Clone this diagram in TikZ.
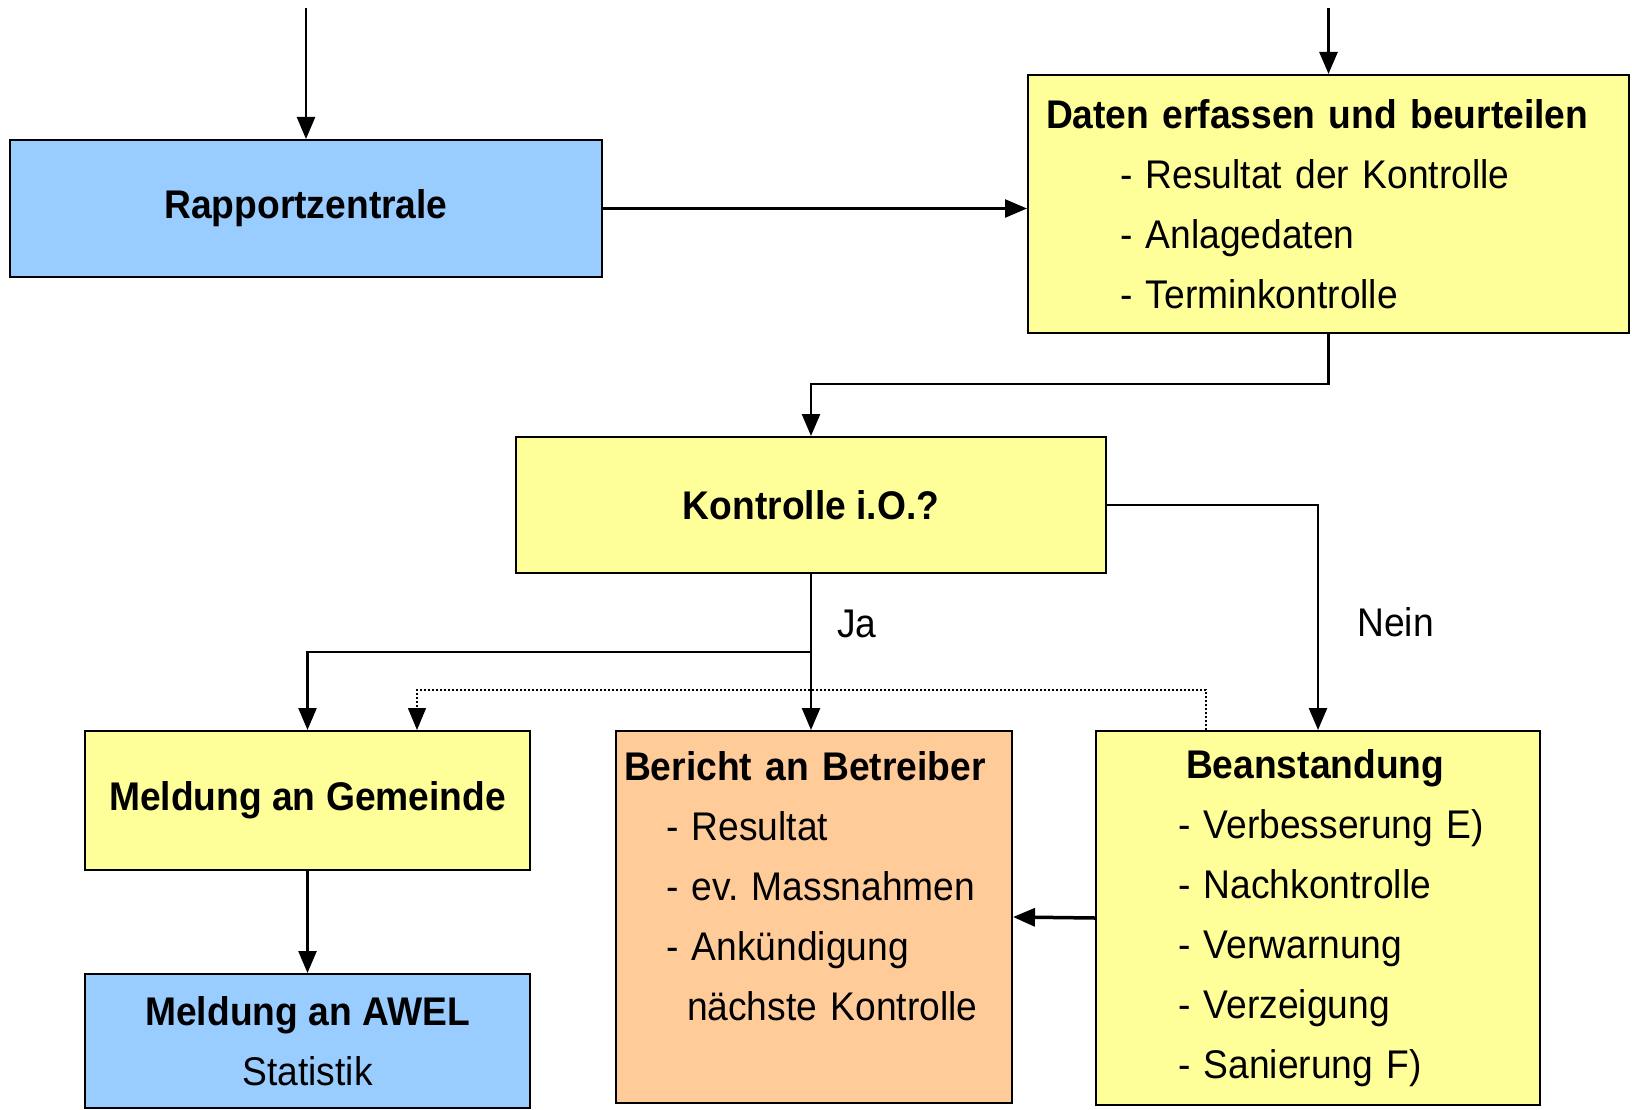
\documentclass[tikz,border=0pt]{standalone}
\usepackage{fontspec}
\setmainfont{Liberation Sans}[FakeStretch=0.93]
\usetikzlibrary{arrows.meta}
\frenchspacing

\definecolor{boxblue}{HTML}{99CCFF}
\definecolor{boxyellow}{HTML}{FFFF99}
\definecolor{boxpeach}{HTML}{FFCC99}

\begin{document}
\begin{tikzpicture}[
    x=1pt, y=-1pt,
    % Box styles
    box/.style={
        rectangle,
        draw=black,
        line width=2pt,
        font=\fontsize{40}{60}\selectfont,
        inner sep=0pt
    },
    bluebox/.style={box, fill=boxblue, align=center},
    yellowbox/.style={box, fill=boxyellow},
    peachbox/.style={box, fill=boxpeach},
    arrow/.style={
        -{Triangle[length=22pt, width=18pt]},
        line width=2.5pt,
        black
    },
    dotarrow/.style={
        -{Triangle[length=22pt, width=18pt]},
        line width=1.5pt,
        dash pattern=on 2pt off 2pt
    },
    note/.style={
        font=\fontsize{40}{60}\selectfont,
        inner sep=0pt
    }
]

\useasboundingbox (0,0) rectangle (1632,1110);

% === Top row ===
\node[bluebox, minimum width=592pt, minimum height=137pt] (rapport) at (306,208.5)
    {\textbf{Rapportzentrale}};
\node[yellowbox, minimum width=601pt, minimum height=258pt, text width=565pt, align=left] (daten) at (1328.5,204) {
    \textbf{Daten erfassen und beurteilen}\\
    \hspace*{74pt}- Resultat der Kontrolle\\
    \hspace*{74pt}- Anlagedaten\\
    \hspace*{74pt}- Terminkontrolle
};

% === Decision ===
\node[yellowbox, minimum width=590pt, minimum height=136pt] (kontrolle) at (811,505)
    {\textbf{Kontrolle i.O.?}};

% === Bottom row ===
\node[yellowbox, minimum width=445pt, minimum height=139pt] (gemeinde) at (307.5,800.5)
    {\textbf{Meldung an Gemeinde}};
\node[bluebox, minimum width=445pt, minimum height=134pt] (awel) at (307.5,1041)
    {\textbf{Meldung an AWEL}\\Statistik};
\node[peachbox, minimum width=396pt, minimum height=372pt, text width=380pt, align=left] (bericht) at (814,917) {
    \textbf{Bericht an Betreiber}\\
    \hspace*{42pt}- Resultat\\
    \hspace*{42pt}- ev. Massnahmen\\
    \hspace*{42pt}- Ankündigung\\
    \hspace*{63pt}nächste Kontrolle\\[-15pt]
    \strut
};
\node[yellowbox, minimum width=444pt, minimum height=374pt, text width=424pt, align=left] (beanstandung) at (1318,918) {
    \hspace*{80pt}\textbf{Beanstandung}\\
    \hspace*{72pt}- Verbesserung E)\\
    \hspace*{72pt}- Nachkontrolle\\
    \hspace*{72pt}- Verwarnung\\
    \hspace*{72pt}- Verzeigung\\
    \hspace*{72pt}- Sanierung F)
};

% === Incoming arrows ===
\coordinate (inleft) at (306,8);
\coordinate (inright) at (1328.5,8);
\draw[arrow] (inleft) -- (rapport.north);
\draw[arrow] (inright) -- (daten.north);

% === Arrows ===
\draw[arrow] (rapport.east) -- (rapport.east -| daten.west);
\draw[arrow] (daten.south) -- ++(0,50) -| (kontrolle.north);
\draw[arrow] (kontrolle.east) -| node[note, pos=0.76, right=38pt] {Nein} (beanstandung.north);
\draw[arrow] (kontrolle.south) -- node[note, pos=0.32, right=25pt] {Ja} (kontrolle.south |- bericht.north);
\draw[arrow] (kontrolle.south) ++(0,78) -| (gemeinde.north);
\draw[dotarrow] ([xshift=111pt]beanstandung.north west) -- ++(0,-40) -| ([xshift=333pt]gemeinde.north west);
\draw[arrow] (gemeinde.south) -- (awel.north);
\draw[arrow, line width=3.5pt] (beanstandung.west) -- (bericht.east);

\end{tikzpicture}
\end{document}
